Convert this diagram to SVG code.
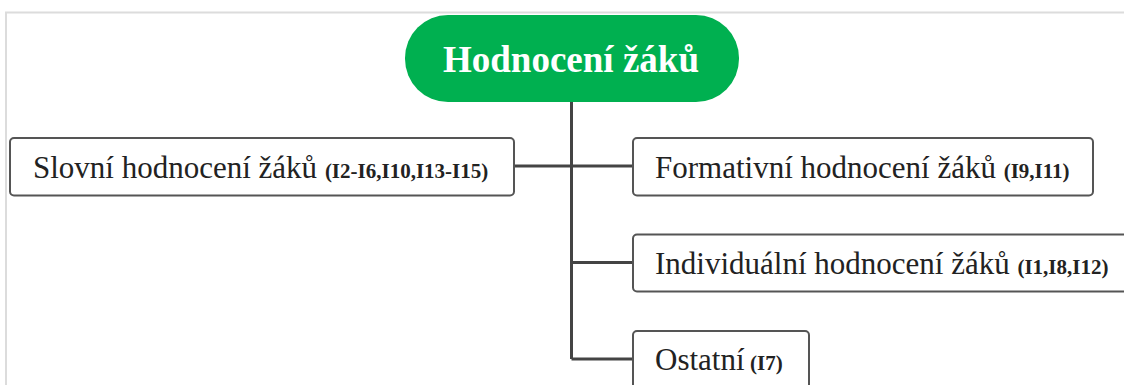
<svg xmlns="http://www.w3.org/2000/svg" width="1124" height="385" viewBox="0 0 1124 385">
<style>
.frame{fill:none;stroke:#dcdcdc;stroke-width:2}
.box{fill:#fff;stroke:#555;stroke-width:2}
.lbl{font-family:"Liberation Serif","Times New Roman",serif;font-size:31px;fill:#222}
.ref{font-weight:bold;font-size:21px}
.title{font-family:"Liberation Serif","Times New Roman",serif;font-size:37px;font-weight:bold;fill:#fff;text-anchor:middle}
.conn{fill:none;stroke:#444;stroke-width:3}
</style>
<rect width="1124" height="385" fill="#fff"/>
<path class="frame" d="M6,385 V12.5 H1124"/>
<g id="connectors">
<path class="conn" d="M571.5,101 V359 M514,166 H633 M571.5,262.5 H633 M571.5,359 H633"/>
</g>
<g id="root">
<rect x="405" y="15" width="334" height="87" rx="43" fill="#00b050"/>
<text class="title" x="571" y="72">Hodnocení žáků</text>
</g>
<g id="slovni">
<rect class="box" x="10" y="138" width="504" height="57.5" rx="4"/>
<text class="lbl" x="33" y="178">Slovní hodnocení žáků <tspan class="ref">(I2-I6,I10,I13-I15)</tspan></text>
</g>
<g id="formativni">
<rect class="box" x="633" y="138" width="460" height="57.5" rx="4"/>
<text class="lbl" x="655" y="178">Formativní hodnocení žáků <tspan class="ref">(I9,I11)</tspan></text>
</g>
<g id="individualni">
<rect class="box" x="633" y="234.5" width="500" height="57" rx="4"/>
<text class="lbl" x="655" y="274">Individuální hodnocení žáků <tspan class="ref">(I1,I8,I12)</tspan></text>
</g>
<g id="ostatni">
<rect class="box" x="633" y="331" width="176" height="70" rx="4"/>
<text class="lbl" x="655" y="370">Ostatní <tspan class="ref" x="750">(I7)</tspan></text>
</g>
</svg>
